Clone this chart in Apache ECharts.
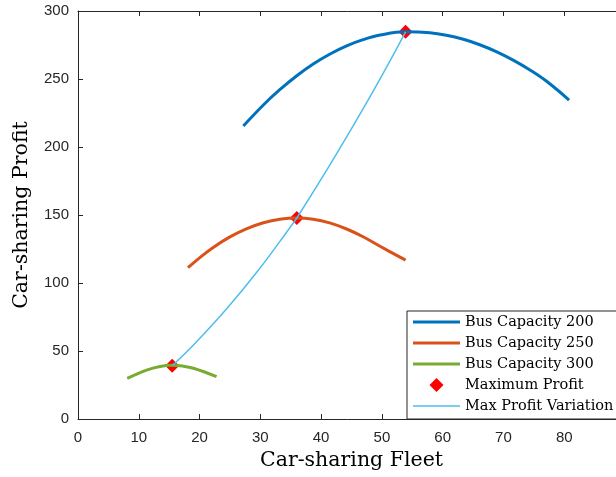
<!DOCTYPE html>
<html>
<head>
<meta charset="utf-8">
<script src="https://cdn.jsdelivr.net/npm/echarts@6/dist/echarts.min.js"></script>
<style>
  html, body { margin: 0; padding: 0; background: #fff; }
  #chart { width: 616px; height: 477px; }
</style>
</head>
<body>
<div id="chart"></div>
<script>
// ---- data ----
const cap200 = [[27.2,215.4],[30.5,230.9],[33.2,242.1],[36.0,252.4],[38.7,261.0],[41.4,268.2],[44.2,274.3],[46.9,278.9],[49.7,282.3],[53.9,284.7],[57.9,284.0],[60.6,282.2],[63.4,279.2],[66.1,275.2],[68.9,270.0],[71.6,263.9],[74.3,256.8],[77.1,248.3],[80.8,234.5]];
const cap250 = [[18.1,111.3],[20.0,118.5],[22.3,126.3],[25.0,133.9],[27.7,139.8],[30.5,144.3],[33.2,146.9],[36.0,147.8],[38.7,146.9],[41.4,144.2],[44.2,139.7],[46.9,134.0],[49.7,127.0],[53.9,116.8]];
const cap300 = [[8.1,29.9],[11.3,36],[13.5,38.6],[15.4,39.5],[17.2,38.9],[19.0,37.3],[22.8,31.1]];
const maxProfit = [[53.9,284.7],[36.0,147.8],[15.5,39.2]];
const maxVariation = [[15.5,39.2],[19.0,54.4],[24.5,81.2],[29.7,109.5],[34.8,140.3],[36.0,147.8],[41.4,186.5],[46.9,228.0],[50.5,256.5],[53.9,284.7]];
const xTicks = [0,10,20,30,40,50,60,70,80,90];
const yTicks = [0,50,100,150,200,250,300];
const seriesNames = ['Bus Capacity 200','Bus Capacity 250','Bus Capacity 300','Maximum Profit','Max Profit Variation'];
const seriesColors = ['#0072BD','#D95319','#77AC30','#FF0000','#4DBEEE'];

const axisColor = '#262626';
const chart = echarts.init(document.getElementById('chart'), null, {renderer: 'canvas'});
const tickFont = {fontFamily: 'Liberation Sans', fontSize: 15, color: axisColor};
const serif = 'DejaVu Serif';
const lineIcon = 'path://M0,0H47V3H0Z';
const thinIcon = 'path://M0,0H47V1.6H0Z';

function frameAxis(extra) {
  return Object.assign({
    type: 'value',
    axisLine: {show: true, onZero: false, lineStyle: {color: axisColor, width: 1}},
    axisTick: {show: true, inside: true, length: 5, lineStyle: {color: axisColor}},
    splitLine: {show: false}
  }, extra);
}

chart.setOption({
  animation: false,
  backgroundColor: '#fff',
  grid: {left: 78, top: 11, width: 547, height: 408, containLabel: false, outerBoundsMode: 'none'},
  xAxis: [
    frameAxis({min: xTicks[0], max: xTicks[xTicks.length-1], interval: 10,
      name: 'Car-sharing Fleet', nameLocation: 'middle', nameGap: 30,
      nameTextStyle: {fontFamily: serif, fontSize: 20.5, color: '#000'},
      axisLabel: Object.assign({margin: 11}, tickFont)}),
    frameAxis({position: 'top', min: xTicks[0], max: xTicks[xTicks.length-1], interval: 10, axisLabel: {show: false}})
  ],
  yAxis: [
    frameAxis({min: yTicks[0], max: yTicks[yTicks.length-1], interval: 50,
      name: 'Car-sharing Profit', nameLocation: 'middle', nameGap: 46,
      nameTextStyle: {fontFamily: serif, fontSize: 20.5, color: '#000'},
      axisLabel: Object.assign({margin: 9}, tickFont)}),
    frameAxis({position: 'right', min: yTicks[0], max: yTicks[yTicks.length-1], interval: 50, axisLabel: {show: false}})
  ],
  legend: {
    orient: 'vertical', left: 407, top: 311,
    backgroundColor: '#fff', borderColor: axisColor, borderWidth: 1,
    padding: [1, 60, 3, 6], itemGap: 1, itemWidth: 47, itemHeight: 14,
    symbolKeepAspect: true,
    textStyle: {fontFamily: serif, fontSize: 14.5, color: '#000', lineHeight: 20},
    data: [
      {name: seriesNames[0], icon: lineIcon, itemStyle: {color: seriesColors[0]}},
      {name: seriesNames[1], icon: lineIcon, itemStyle: {color: seriesColors[1]}},
      {name: seriesNames[2], icon: lineIcon, itemStyle: {color: seriesColors[2]}},
      {name: seriesNames[3], icon: 'path://M7,0L14,7L7,14L0,7Z', itemStyle: {color: seriesColors[3]}},
      {name: seriesNames[4], icon: thinIcon, itemStyle: {color: seriesColors[4]}}
    ]
  },
  series: [
    {name: seriesNames[0], type: 'line', data: cap200, smooth: 0.4, symbol: 'none', lineStyle: {color: seriesColors[0], width: 3}, itemStyle: {color: seriesColors[0]}},
    {name: seriesNames[1], type: 'line', data: cap250, smooth: 0.4, symbol: 'none', lineStyle: {color: seriesColors[1], width: 3}, itemStyle: {color: seriesColors[1]}},
    {name: seriesNames[2], type: 'line', data: cap300, smooth: 0.4, symbol: 'none', lineStyle: {color: seriesColors[2], width: 3}, itemStyle: {color: seriesColors[2]}},
    {name: seriesNames[3], type: 'scatter', data: maxProfit, symbol: 'diamond', symbolSize: 14, itemStyle: {color: seriesColors[3], opacity: 1}},
    {name: seriesNames[4], type: 'line', data: maxVariation, smooth: 0.4, symbol: 'none', lineStyle: {color: seriesColors[4], width: 1.5}, itemStyle: {color: seriesColors[4]}}
  ]
});
</script>
</body>
</html>
